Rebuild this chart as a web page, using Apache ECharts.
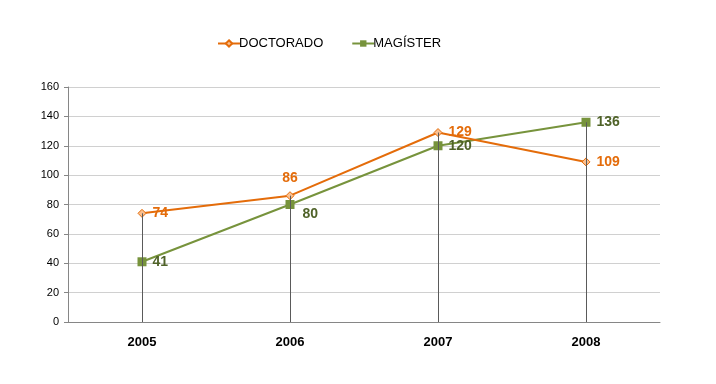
<!DOCTYPE html>
<html><head><meta charset="utf-8">
<script src="https://cdn.jsdelivr.net/npm/echarts@6/dist/echarts.min.js"></script>
<style>html,body{margin:0;padding:0;background:#fff}#c{width:716px;height:384px}</style>
</head><body><div id="c"></div>
<script>
const categories = ['2005','2006','2007','2008'];
const doctorado = [74, 86, 129, 109];
const magister = [41, 80, 120, 136];
const yTicks = [0,20,40,60,80,100,120,140,160];

const dropData = categories.map((c,i)=>[{coord:[i, Math.max(doctorado[i], magister[i])]},{coord:[i,0]}]);
const chart = echarts.init(document.getElementById('c'));
const font = 'Liberation Sans';
chart.setOption({
  animation:false,
  textStyle:{fontFamily:font},
  legend:{top:32,left:212,itemGap:28,itemWidth:22,itemHeight:8,
    textStyle:{fontSize:13,color:'#000',fontFamily:font,padding:[0,0,0,-6]},
    data:['DOCTORADO','MAGÍSTER']},
  grid:{left:68,right:56,top:87,bottom:62},
  xAxis:{type:'category',data:categories,boundaryGap:true,
    axisLine:{lineStyle:{color:'#868686'}},axisTick:{show:false},
    axisLabel:{fontSize:13,fontWeight:'bold',color:'#000',margin:14,fontFamily:font}},
  yAxis:{type:'value',min:yTicks[0],max:yTicks[yTicks.length-1],interval:20,
    axisLine:{show:true,lineStyle:{color:'#868686'}},axisTick:{show:true,length:4,lineStyle:{color:'#868686'}},
    splitLine:{lineStyle:{color:'#d0d0d0'}},
    axisLabel:{fontSize:11,color:'#000',margin:9,fontFamily:font}},
  series:[
    {name:'DOCTORADO',type:'line',
     data:doctorado.map((v,i)=>i===1?{value:v,label:{position:'top',distance:6}}:v),
     symbol:'diamond',symbolSize:8,
     lineStyle:{color:'#E46C0A',width:2},
     itemStyle:{color:'#FAC090',borderColor:'#E46C0A',borderWidth:1},
     label:{show:true,fontSize:14,fontWeight:'bold',color:'#E46C0A',fontFamily:font,position:'right',distance:6},
     markLine:{silent:true,symbol:'none',label:{show:false},lineStyle:{color:'#5a5a5a',width:1,type:'solid'},data:dropData},
     z:3},
    {name:'MAGÍSTER',type:'line',data:magister.map((v,i)=>i===1?{value:v,label:{position:'right',offset:[2,10]}}:v),symbol:'rect',symbolSize:9,
     lineStyle:{color:'#77933C',width:2},
     itemStyle:{color:'#77933C'},
     label:{show:true,fontSize:14,fontWeight:'bold',color:'#4F6228',fontFamily:font,position:'right',distance:6},
     z:2}
  ]
});
</script></body></html>
